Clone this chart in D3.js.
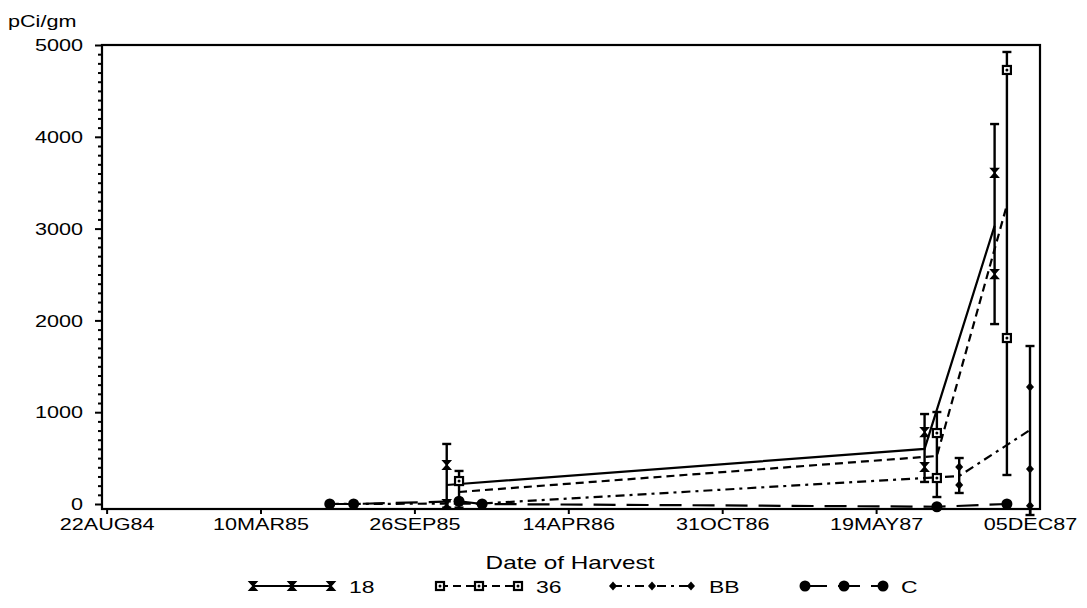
<!DOCTYPE html>
<html>
<head>
<meta charset="utf-8">
<script src="https://cdn.jsdelivr.net/npm/d3@7"></script>
<style>
body { margin: 0; background: #fff; }
text { font-family: "Liberation Sans", Arial, sans-serif; fill: #000; }
</style>
</head>
<body>
<svg id="chart" width="1087" height="608"></svg>
<script>
// series 18 : mean line, error bar (low/high) and single values
var dates18 = ["07NOV85", "21JUL87", "20OCT87"];
var mean18 = [207, 600, 3030];
var low18 = [-40, 240, 1960];
var high18 = [654, 980, 4139];
var points18 = [[425, 0], [784, 403], [3606, 2505]];

// series 36
var dates36 = ["23NOV85", "06AUG87", "05NOV87"];
var mean36 = [131, 523, 3257];
var low36 = [-40, 76, 316];
var high36 = [360, 1002, 4924];
var points36 = [[250], [773, 283], [4728, 1808]];

// series BB (single values have no bar)
var datesBB = ["08JUN85", "23DEC85", "04SEP87", "05DEC87"];
var meanBB = [0, 5, 305, 806];
var lowBB = [null, null, 120, -120];
var highBB = [null, null, 501, 1721];
var pointsBB = [[0], [5], [403, 207], [1275, 381, -20]];

// series C
var datesC = ["08JUN85", "09JUL85", "23NOV85", "23DEC85", "06AUG87", "05NOV87"];
var meanC = [0, 0, 30, 0, -30, 0];
var pointsC = [[0], [0], [30], [0], [-30], [0]];

var tickDates = ["22AUG84", "10MAR85", "26SEP85", "14APR86", "31OCT86", "19MAY87", "05DEC87"];
var yTicks = [0, 1000, 2000, 3000, 4000, 5000];

var parse = d3.utcParse("%d%b%y");
var fmt = d3.utcFormat("%d%b%y");

function makeSeries(name, dates, mean, low, high, points, dash, sym) {
  return {
    name: name, dash: dash, sym: sym,
    rows: dates.map(function(d, i) {
      return {date: parse(d), mean: mean[i],
              low: low ? low[i] : null, high: high ? high[i] : null,
              points: points[i]};
    })
  };
}

var series = [
  makeSeries("18", dates18, mean18, low18, high18, points18, null, "hour"),
  makeSeries("36", dates36, mean36, low36, high36, points36, "8,5", "square"),
  makeSeries("BB", datesBB, meanBB, lowBB, highBB, pointsBB, "9,5,3,5", "diamond"),
  makeSeries("C", datesC, meanC, null, null, pointsC, "22,11", "dot")
];

var svg = d3.select("#chart");
var plotL = 102, plotR = 1040, plotT = 45, plotB = 509;
var sx = 1.35; // horizontal stretch of the lettering

var x = d3.scaleUtc()
  .domain([parse("16AUG84"), parse("18DEC87")])
  .range([plotL, plotR]);
var y = d3.scaleLinear().domain([0, 5000]).range([504, plotT]);

// frame
svg.append("rect")
  .attr("x", plotL).attr("y", plotT)
  .attr("width", plotR - plotL).attr("height", plotB - plotT)
  .attr("fill", "none").attr("stroke", "#000").attr("stroke-width", 2.2);

// x axis
var xAxis = svg.append("g")
  .attr("transform", "translate(0," + plotB + ")")
  .call(d3.axisBottom(x)
    .tickValues(tickDates.map(parse))
    .tickSize(5).tickSizeOuter(0)
    .tickFormat(function(d) { return fmt(d).toUpperCase(); }));
xAxis.select(".domain").remove();
xAxis.selectAll("line").attr("stroke-width", 2);
xAxis.selectAll("text")
  .attr("y", null).attr("dy", null)
  .attr("font-size", 16)
  .attr("transform", "translate(0,21) scale(" + sx + ",1)");

// y axis
var yAxis = svg.append("g")
  .attr("transform", "translate(" + plotL + ",0)")
  .call(d3.axisLeft(y).tickValues(yTicks).tickSize(7).tickSizeOuter(0)
    .tickFormat(d3.format("d")));
yAxis.select(".domain").remove();
yAxis.selectAll("line").attr("stroke-width", 2);
yAxis.selectAll("text")
  .attr("x", null).attr("dy", "0.36em")
  .attr("font-size", 16)
  .attr("transform", "translate(-19,0) scale(" + sx + ",1)");

var yMinor = svg.append("g")
  .attr("transform", "translate(" + plotL + ",0)")
  .call(d3.axisLeft(y)
    .tickValues(d3.range(0, 5001, 100).filter(function(v) { return v % 1000; }))
    .tickSize(4).tickSizeOuter(0).tickFormat(""));
yMinor.select(".domain").remove();
yMinor.selectAll("line").attr("stroke-width", 2);

// axis labels
svg.append("text")
  .attr("font-size", 16)
  .attr("transform", "translate(8,27) scale(" + sx + ",1)")
  .text("pCi/gm");
svg.append("text")
  .attr("font-size", 18).attr("text-anchor", "middle")
  .attr("transform", "translate(570,569) scale(" + sx + ",1)")
  .text("Date of Harvest");

function drawSymbol(g, kind) {
  if (kind == "hour") {
    g.append("path").attr("d", "M-4,-4.5H4L-4,4.5H4Z")
      .attr("fill", "#000").attr("stroke", "#000").attr("stroke-width", 1.2);
  } else if (kind == "square") {
    g.append("rect").attr("x", -4).attr("y", -4).attr("width", 8).attr("height", 8)
      .attr("fill", "#fff").attr("stroke", "#000").attr("stroke-width", 2.2);
    g.append("circle").attr("r", 1.5).attr("fill", "#000");
  } else if (kind == "diamond") {
    g.append("path").attr("d", "M0,-4.5L4,0L0,4.5L-4,0Z").attr("fill", "#000");
  } else {
    g.append("circle").attr("r", 5.5).attr("fill", "#000");
  }
}

var line = d3.line()
  .x(function(d) { return x(d.date); })
  .y(function(d) { return y(d.mean); });

// mean lines
series.forEach(function(s) {
  svg.append("path")
    .datum(s.rows)
    .attr("d", line)
    .attr("fill", "none")
    .attr("stroke", "#000")
    .attr("stroke-width", 2.2)
    .attr("stroke-dasharray", s.dash);
});

// error bars
series.forEach(function(s) {
  var bars = svg.append("g").selectAll("g")
    .data(s.rows.filter(function(d) { return d.low != null; }))
    .enter().append("g")
    .attr("stroke", "#000").attr("stroke-width", 2.4);
  bars.append("line")
    .attr("x1", function(d) { return x(d.date); })
    .attr("x2", function(d) { return x(d.date); })
    .attr("y1", function(d) { return y(d.low); })
    .attr("y2", function(d) { return y(d.high); });
  bars.append("line")
    .attr("x1", function(d) { return x(d.date) - 4.5; })
    .attr("x2", function(d) { return x(d.date) + 4.5; })
    .attr("y1", function(d) { return y(d.high); })
    .attr("y2", function(d) { return y(d.high); });
  bars.append("line")
    .attr("x1", function(d) { return x(d.date) - 4.5; })
    .attr("x2", function(d) { return x(d.date) + 4.5; })
    .attr("y1", function(d) { return y(d.low); })
    .attr("y2", function(d) { return y(d.low); });
});

// single values
series.forEach(function(s) {
  var pts = [];
  s.rows.forEach(function(r) {
    r.points.forEach(function(v) { pts.push({date: r.date, v: v}); });
  });
  svg.append("g").selectAll("g")
    .data(pts)
    .enter().append("g")
    .attr("transform", function(d) { return "translate(" + x(d.date) + "," + y(d.v) + ")"; })
    .each(function() { drawSymbol(d3.select(this), s.sym); });
});

// legend
var legendX = [253, 440, 613, 805];
var legendY = 586;
series.forEach(function(s, i) {
  var g = svg.append("g").attr("transform", "translate(" + legendX[i] + "," + legendY + ")");
  g.append("line")
    .attr("x1", 0).attr("x2", 78)
    .attr("stroke", "#000").attr("stroke-width", 2.2)
    .attr("stroke-dasharray", s.dash);
  [0, 39, 78].forEach(function(p) {
    drawSymbol(g.append("g").attr("transform", "translate(" + p + ",0)"), s.sym);
  });
  g.append("text")
    .attr("font-size", 17)
    .attr("transform", "translate(96,6.5) scale(" + sx + ",1)")
    .text(s.name);
});
</script>
</body>
</html>
